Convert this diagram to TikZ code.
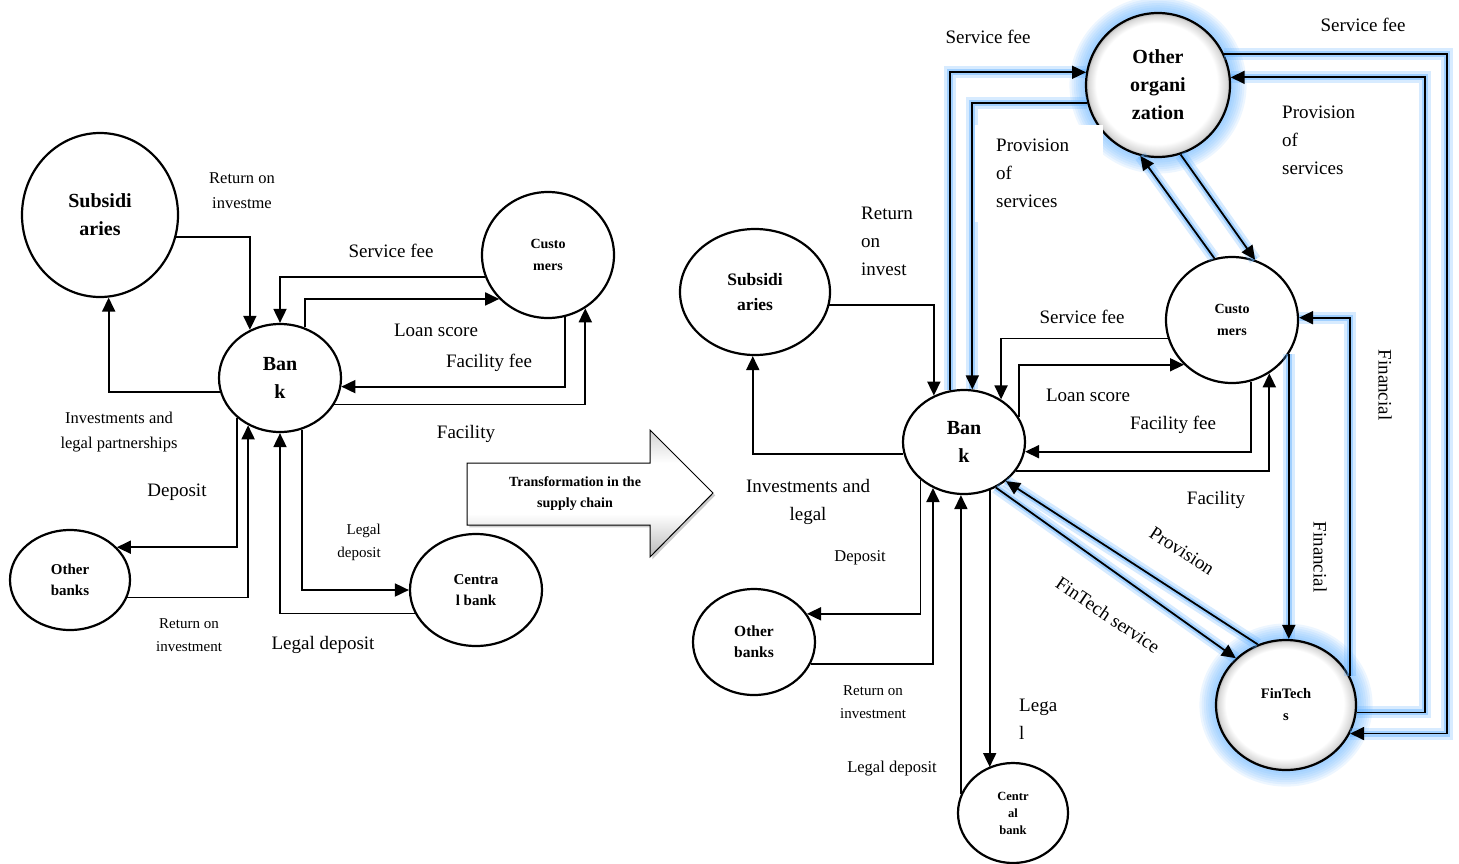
\documentclass[tikz,border=0pt]{standalone}
\usepackage{fontspec}
\setmainfont{Liberation Serif}
\usetikzlibrary{arrows.meta, shapes.geometric, shadows}
\tikzset{>={Triangle[length=14pt,width=13pt]}}
\definecolor{glowblue}{RGB}{95,175,255}
\pgfdeclareradialshading{orbshade}{\pgfpoint{-3bp}{3bp}}{color(0bp)=(white); color(21bp)=(white); color(24bp)=(gray!30); color(25bp)=(gray!60)}
\pgfdeclareverticalshading{bevel}{100bp}{color(0bp)=(gray!80); color(25bp)=(gray!55); color(42bp)=(white); color(62bp)=(white); color(75bp)=(gray!35); color(100bp)=(gray!60)}

\begin{document}
\begin{tikzpicture}[x=1pt, y=-1pt,
    party/.style={draw, ellipse, line width=2.2pt, align=center, inner sep=0pt, font=\bfseries\fontsize{20}{28}\selectfont},
    glowparty/.style={party, shade, shading=orbshade},
    flow/.style={->, line width=1.8pt},
    glow/.style={flow, preaction={draw=glowblue, line width=12pt, opacity=0.25, -}, preaction={draw=glowblue, line width=6pt, opacity=0.45, -}},
    lbl/.style={align=center, inner sep=1pt, font=\fontsize{19}{28}\selectfont},
    lblmid/.style={lbl, font=\fontsize{16.5}{25}\selectfont},
    lblsmall/.style={lbl, font=\fontsize{15}{23}\selectfont}]
    \useasboundingbox (0,0) rectangle (1459,863);

    % glow round the new parties
    \foreach \k in {1,...,8} {
        \fill[glowblue, opacity=0.11] (1158,85) ellipse ({71+2.2*\k} and {71+2.2*\k});
        \fill[glowblue, opacity=0.11] (1286,705) ellipse ({69+2.2*\k} and {64+2.2*\k});
    }

    % before: the bank in the middle
    \node[party, minimum width=156pt, minimum height=164pt] (subL) at (100,215) {Subsidi\\aries};
    \node[party, minimum width=132pt, minimum height=126pt, font=\bfseries\fontsize{14}{22}\selectfont] (custL) at (548,255) {Custo\\mers};
    \node[party, minimum width=122pt, minimum height=108pt] (bankL) at (280,378) {Ban\\k};
    \node[party, minimum width=120pt, minimum height=100pt, font=\bfseries\fontsize{15}{21}\selectfont] (othL) at (70,580) {Other\\banks};
    \node[party, minimum width=132pt, minimum height=112pt, font=\bfseries\fontsize{15}{21}\selectfont] (cenL) at (476,590) {Centra\\l bank};

    \draw[flow] (subL.-16) -| (bankL.122);
    \draw[flow] (bankL.193) -| (subL.-84);
    \draw[flow] (custL.199) -| (bankL.north);
    \draw[flow] (bankL.64) |- (custL.222);
    \draw[flow] (custL.-75) |- (bankL.-8);
    \draw[flow] (bankL.-26) -| (custL.-55);
    \draw[flow] (bankL.223) |- (othL.35);
    \draw[flow] (othL.-17) -| (bankL.236);
    \draw[flow] (bankL.-67) |- (cenL.west);
    \draw[flow] (cenL.201) -| (bankL.south);

    \node[lblmid] (tRetL) at (242,191) {Return on\\investme};
    \node[lblmid] (tInvL) at (119,432) {Investments and\\legal partnerships};
    \node[lbl] (tFeeL) at (391,251) {Service fee};
    \node[lbl] (tLoanL) at (436,330) {Loan score};
    \node[lbl] (tFacFeeL) at (489,363) {Facility fee};
    \node[lbl] (tFacL) at (466,434) {Facility};
    \node[lbl] (tDepL) at (177,492) {Deposit};
    \node[lblsmall] (tRoiL) at (189,635) {Return on\\investment};
    \node[lblsmall, align=right, anchor=east] (tLegL) at (382,542) {Legal\\deposit};
    \node[lbl] (tLegDepL) at (323,645) {Legal deposit};

    % the change
    \shadedraw[line width=1pt, shading=bevel, drop shadow={opacity=0.4}]
        (467,463) -- (650,463) -- (650,430) -- (713,493) -- (650,557) -- (650,525) -- (467,525) -- cycle;
    \node[align=center, font=\bfseries\fontsize{14}{21}\selectfont] (trans) at (575,494) {Transformation in the\\supply chain};

    % after: FinTechs and other organizations
    \node[glowparty, minimum width=144pt, minimum height=144pt] (orgR) at (1158,85) {Other\\organi\\zation};
    \node[party, minimum width=150pt, minimum height=126pt, font=\bfseries\fontsize{17.5}{25}\selectfont] (subR) at (755,292) {Subsidi\\aries};
    \node[party, minimum width=132pt, minimum height=126pt, font=\bfseries\fontsize{14}{22}\selectfont] (custR) at (1232,320) {Custo\\mers};
    \node[party, minimum width=122pt, minimum height=104pt] (bankR) at (964,442) {Ban\\k};
    \node[party, minimum width=122pt, minimum height=106pt, font=\bfseries\fontsize{15.5}{21}\selectfont] (othR) at (754,642) {Other\\banks};
    \node[glowparty, minimum width=140pt, minimum height=130pt, font=\bfseries\fontsize{14.5}{22}\selectfont] (finR) at (1286,705) {FinTech\\s};
    \node[party, minimum width=110pt, minimum height=100pt, font=\bfseries\fontsize{12.5}{17}\selectfont] (cenR) at (1013,813) {Centr\\al\\bank};
    \coordinate (outerR) at (1447,0);
    \coordinate (innerR) at (1425,0);

    \draw[flow] (subR.-10) -| (bankR.123);
    \draw[flow] (bankR.191) -| (subR.-92);
    \draw[flow] (custR.196) -| (bankR.49);
    \draw[flow] (bankR.24) |- (custR.223);
    \draw[flow] (custR.-73) |- (bankR.-9);
    \draw[flow] (bankR.-29) -| (custR.-55);
    \draw[flow] (bankR.221) |- (othR.28);
    \draw[flow] (othR.-21) -| (bankR.236);
    \draw[flow] (cenR.160) -- (cenR.160 |- bankR.south);
    \draw[flow] (bankR.-62) -- (bankR.-62 |- cenR.118);

    \draw[glow] (bankR.105) |- (orgR.170);
    \draw[glow] (orgR.194) -| (bankR.81);
    \draw[glow] (orgR.-72) -- (custR.69);
    \draw[glow] (custR.106) -- (orgR.-104);
    \draw[glow] (orgR.25) -- (orgR.25 -| outerR) -- (outerR |- finR.-24) -- (finR.-24);
    \draw[glow] (finR.-6) -- (finR.-6 -| innerR) -- (innerR |- orgR.6) -- (orgR.6);
    \draw[glow] (finR.24) |- (custR.2);
    \draw[glow] (custR.-31) -- (custR.-31 |- finR.88);
    \draw[glow] (bankR.-55) -- (finR.137);
    \draw[glow] (finR.115) -- (bankR.-43);

    \node[lbl, align=left, anchor=north west] (tRetR) at (860,206) {Return\\on\\invest};
    \node[lbl] (tInvR) at (808,502) {Investments and\\legal};
    \node[lbl] (tFeeR) at (1082,317) {Service fee};
    \node[lbl] (tLoanR) at (1088,395) {Loan score};
    \node[lbl] (tFacFeeR) at (1173,425) {Facility fee};
    \node[lbl] (tFacR) at (1216,500) {Facility};
    \node[lblmid] (tDepR) at (860,558) {Deposit};
    \node[lblsmall] (tRoiR) at (873,702) {Return on\\investment};
    \node[lblmid] (tLegDepR) at (892,769) {Legal deposit};
    \node[lbl, align=left, anchor=north west] (tLegR) at (1018,698) {Lega\\l};
    \node[lbl] (tFeeOrg) at (988,37) {Service fee};
    \node[lbl, align=left, fill=white, anchor=north west, inner xsep=21pt, inner ysep=14pt, text width=86pt] (tProvOrg) at (975,125) {Provision\\of\\services};
    \node[lbl] (tFeeFin) at (1363,25) {Service fee};
    \node[lbl, align=left, anchor=north west] (tProvFin) at (1281,105) {Provision\\of\\services};
    \node[lbl, rotate=-90] (tFinA) at (1385,385) {Financial};
    \node[lbl, rotate=-90] (tFinB) at (1320,557) {Financial};
    \node[lbl, rotate=-33] (tProvB) at (1182,551) {Provision};
    \node[lbl, rotate=-34] (tFinServ) at (1108,615) {FinTech service};
\end{tikzpicture}
\end{document}
